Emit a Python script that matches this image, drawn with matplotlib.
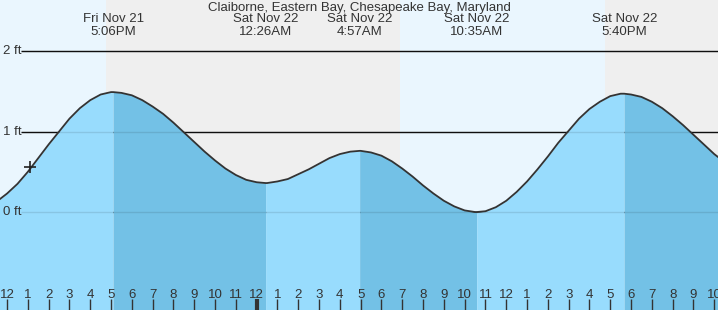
import matplotlib.pyplot as plt
import numpy as np

plt.rcParams['font.family'] = ['Liberation Sans', 'DejaVu Sans']

# half-hourly readings, hours since Fri Nov 21 12:00 PM
hours = [-1.0, -0.5, 0.0, 0.5, 1.0, 1.5, 2.0, 2.5, 3.0, 3.5, 4.0, 4.5,
         5.0, 5.5, 6.0, 6.5, 7.0, 7.5, 8.0, 8.5, 9.0, 9.5, 10.0, 10.5,
         11.0, 11.5, 12.0, 12.5, 13.0, 13.5, 14.0, 14.5, 15.0, 15.5, 16.0, 16.5,
         17.0, 17.5, 18.0, 18.5, 19.0, 19.5, 20.0, 20.5, 21.0, 21.5, 22.0, 22.5,
         23.0, 23.5, 24.0, 24.5, 25.0, 25.5, 26.0, 26.5, 27.0, 27.5, 28.0, 28.5,
         29.0, 29.5, 30.0, 30.5, 31.0, 31.5, 32.0, 32.5, 33.0, 33.5, 34.0, 34.5, 35.0]
heights = [0.07, 0.13, 0.23, 0.35, 0.50, 0.67, 0.84, 1.00, 1.16, 1.29, 1.39, 1.46,
           1.49, 1.48, 1.45, 1.39, 1.31, 1.22, 1.11, 0.99, 0.87, 0.75, 0.64, 0.54,
           0.46, 0.40, 0.37, 0.36, 0.38, 0.41, 0.47, 0.53, 0.60, 0.67, 0.72, 0.75,
           0.76, 0.74, 0.70, 0.63, 0.54, 0.44, 0.33, 0.23, 0.14, 0.07, 0.02, 0.00,
           0.01, 0.06, 0.14, 0.25, 0.38, 0.53, 0.69, 0.86, 1.01, 1.16, 1.28, 1.37,
           1.44, 1.47, 1.46, 1.43, 1.37, 1.29, 1.19, 1.08, 0.96, 0.84, 0.72, 0.62, 0.54]

# high / low tides
ext_hours = [5.10, 12.43, 16.95, 22.58, 29.67]
ext_heights = [1.49, 0.36, 0.76, 0.00, 1.47]
ext_days = ['Fri Nov 21', 'Sat Nov 22', 'Sat Nov 22', 'Sat Nov 22', 'Sat Nov 22']
ext_times = ['5:06PM', '12:26AM', '4:57AM', '10:35AM', '5:40PM']

# daylight bands (sunset, sunrise, sunset)
light_changes = [4.76, 18.89, 28.75]

tick_hours = list(range(0, 35))
tick_labels = (['12'] + [str(i) for i in range(1, 12)]) * 2 + ['12'] + [str(i) for i in range(1, 11)]
ft_levels = [0, 1, 2]

now_hour, now_height = 1.1, 0.56

title = 'Claiborne, Eastern Bay, Chesapeake Bay, Maryland'

xmin, xmax = -0.34, 34.18
ymin, ymax = -1.217, 2.634

day_col = '#eaf6fe'
night_col = '#efefef'
rise_col = '#98dcfd'
fall_col = '#73c1e6'
txt_col = '#333333'
fs = 9.5

fig = plt.figure(figsize=(7.18, 3.10), dpi=100)
ax = fig.add_axes([0, 0, 1, 1])
ax.set_xlim(xmin, xmax)
ax.set_ylim(ymin, ymax)

# day / night background
edges = [xmin] + light_changes + [xmax]
for i in range(len(edges) - 1):
    ax.axvspan(edges[i], edges[i + 1], color=day_col if i % 2 == 0 else night_col,
               lw=0, zorder=0)

# reference lines (black under the water)
for lv in ft_levels:
    ax.hlines(lv, 0.68, xmax, color='#111111', lw=1, zorder=1)
    ax.text(3 / 718, lv, f'{lv} ft', transform=ax.get_yaxis_transform(),
            ha='left', va='center', fontsize=fs, color=txt_col, zorder=5)

# merge readings with the extremes
t = np.array(hours + ext_hours)
h = np.array(heights + ext_heights)
order = np.argsort(t)
t, h = t[order], h[order]

# water, darker while falling
bounds = [t[0]] + ext_hours + [t[-1]]
for i in range(len(bounds) - 1):
    m = (t >= bounds[i]) & (t <= bounds[i + 1])
    col = rise_col if i % 2 == 0 else fall_col
    ax.fill_between(t[m], ymin, h[m], color=col, lw=0, zorder=2)

# faint lines through the water
for lv in ft_levels:
    ax.hlines(lv, 0.68, xmax, color=(0, 0, 0, 0.1), lw=1, zorder=3)

ax.plot(t, h, color='#333333', lw=1.3, zorder=4)
ax.plot(now_hour, now_height, marker='+', color='#222222', ms=9, mew=1.2, zorder=5)

# labels of the extremes
for xh, d, tm in zip(ext_hours, ext_days, ext_times):
    ax.text(xh, 1 - 19 / 310, d, ha='center', va='center', fontsize=fs,
            color=txt_col, transform=ax.get_xaxis_transform(), zorder=6)
    ax.text(xh, 1 - 32 / 310, tm, ha='center', va='center', fontsize=fs,
            color=txt_col, transform=ax.get_xaxis_transform(), zorder=6)
ax.text(0.5, 1 - 8 / 310, title, ha='center', va='center', fontsize=fs,
        color=txt_col, transform=ax.transAxes, zorder=6)

# hour ticks inside the plot
ax.set_xticks(tick_hours)
ax.set_xticklabels(tick_labels)
ax.tick_params(axis='x', direction='in', length=8, width=1, color=txt_col,
               pad=-15, labelsize=fs, labelcolor=txt_col)
ax.xaxis.get_major_ticks()[12].tick1line.set_markeredgewidth(3)
ax.set_yticks([])
for s in ax.spines.values():
    s.set_visible(False)
ax.set_axisbelow(False)

fig.savefig('out.png', dpi=100)
